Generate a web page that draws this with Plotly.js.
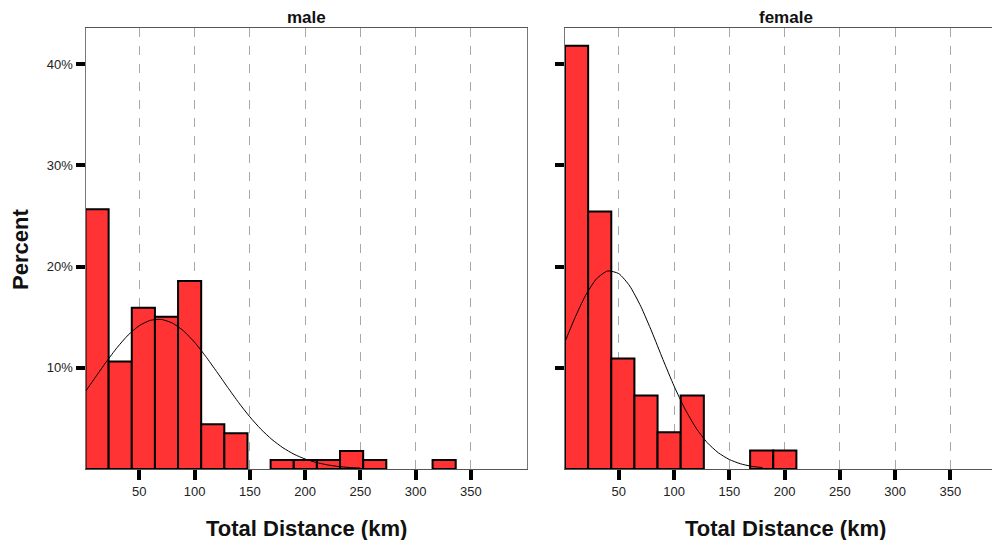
<!DOCTYPE html>
<html>
<head>
<meta charset="utf-8">
<script src="https://cdn.plot.ly/plotly-3.0.1.min.js"></script>
<style>
  html, body { margin: 0; padding: 0; overflow: hidden; background: #fff; }
  #chart { width: 1012px; height: 540px; }
</style>
</head>
<body>
<div id="chart"></div>
<script>
// Histogram bins (km) shared by both panels
const binStart = 1.4;
const binWidth = 20.93;

// Percent of riders in each bin
const malePct   = [25.66, 10.62, 15.93, 15.04, 18.58, 4.42, 3.54, 0, 0.88, 0.88, 0.88, 1.77, 0.88, 0, 0, 0.88];
const femalePct = [41.82, 25.45, 10.91, 7.27, 3.64, 7.27, 0, 0, 1.82, 1.82];

// Fitted normal curve, sampled along the distance axis
const curveKm = [1, 10, 20, 30, 40, 50, 60, 70, 80, 90,
                 100, 110, 120, 130, 140, 150, 160, 170, 180, 190,
                 200, 210, 220, 230, 240, 250];
const maleCurvePct = [7.60, 9.01, 10.56, 12.00, 13.24, 14.16, 14.69, 14.78, 14.42, 13.65,
                      12.53, 11.15, 9.63, 8.07, 6.55, 5.16, 3.94, 2.92, 2.10, 1.46,
                      0.99, 0.65, 0.41, 0.25, 0.15, 0.09];
const femaleCurvePct = [12.46, 14.85, 17.16, 18.81, 19.57, 19.31, 18.08, 16.06, 13.54, 10.82,
                        8.21, 5.91, 4.04, 2.61, 1.61, 0.94, 0.52, 0.27, 0.14];

// Axis ticks
const distTicks = [50, 100, 150, 200, 250, 300, 350];
const pctTicks = [10, 20, 30, 40];
const pctLabels = ['10%', '20%', '30%', '40%'];
const panelNames = ['male', 'female'];
const xTitle = 'Total Distance (km)';
const yTitle = 'Percent';

const FONT = 'Liberation Sans, Arial, Helvetica, sans-serif';
const PAGE_W = 1012;

function binCenters(pcts) {
  return pcts.map((_, i) => binStart + (i + 0.5) * binWidth);
}

function barTrace(pcts, xa, ya) {
  return {
    type: 'bar',
    x: binCenters(pcts),
    y: pcts.map(v => (v > 0 ? v : null)),
    width: binWidth,
    xaxis: xa, yaxis: ya,
    marker: { color: '#ff3333', line: { color: '#000', width: 2 } },
    hoverinfo: 'x+y',
    showlegend: false
  };
}

function curveTrace(vals, xa, ya) {
  return {
    type: 'scatter', mode: 'lines',
    x: curveKm.slice(0, vals.length), y: vals,
    xaxis: xa, yaxis: ya,
    line: { color: '#000', width: 1, shape: 'spline', smoothing: 0.6 },
    hoverinfo: 'skip',
    showlegend: false
  };
}

const data = [
  barTrace(malePct, 'x', 'y'),
  barTrace(femalePct, 'x2', 'y2'),
  curveTrace(maleCurvePct, 'x', 'y'),
  curveTrace(femaleCurvePct, 'x2', 'y2')
];

function xAxis(domainPx, anchor) {
  return {
    domain: [domainPx[0] / PAGE_W, domainPx[1] / PAGE_W],
    anchor: anchor,
    range: [binStart, 400.3],
    tickmode: 'array', tickvals: distTicks,
    ticks: 'outside', ticklen: 10, tickwidth: 4, tickcolor: '#000',
    tickfont: { family: FONT, size: 13, color: '#222' },
    showgrid: true, gridcolor: '#a8a8a8', gridwidth: 1, griddash: 'dash',
    zeroline: false,
    showline: true, linecolor: '#555', linewidth: 1, mirror: true
  };
}

function yAxis(anchor, labels) {
  return {
    domain: [0, 1],
    anchor: anchor,
    range: [0, 43.58],
    tickmode: 'array', tickvals: pctTicks, ticktext: pctLabels,
    showticklabels: labels,
    ticks: 'outside', ticklen: 9, tickwidth: 4, tickcolor: '#000',
    tickfont: { family: FONT, size: 13, color: '#222' },
    showgrid: false, zeroline: false,
    showline: true, linecolor: '#777', linewidth: 1, mirror: true
  };
}

const titleFont = { family: FONT, size: 17, color: '#111' };
const axisTitleFont = { family: FONT, size: 22, color: '#111' };

const layout = {
  width: PAGE_W, height: 540,
  margin: { l: 0, r: 0, t: 28, b: 71 },
  paper_bgcolor: '#fff', plot_bgcolor: '#fff',
  bargap: 0,
  xaxis: xAxis([85.5, 526.5], 'y'),
  yaxis: yAxis('x', true),
  xaxis2: xAxis([565, 1006], 'y2'),
  yaxis2: yAxis('x2', false),
  annotations: [
    { text: '<b>' + panelNames[0] + '</b>', xref: 'x domain', yref: 'paper', x: 0.5, y: 1.0227,
      xanchor: 'center', yanchor: 'middle', showarrow: false, font: titleFont },
    { text: '<b>' + panelNames[1] + '</b>', xref: 'x2 domain', yref: 'paper', x: 0.5, y: 1.0227,
      xanchor: 'center', yanchor: 'middle', showarrow: false, font: titleFont },
    { text: '<b>' + yTitle + '</b>', xref: 'paper', yref: 'paper', x: 21 / PAGE_W, y: 0.4966,
      xanchor: 'center', yanchor: 'middle', textangle: -90, showarrow: false, font: axisTitleFont },
    { text: '<b>' + xTitle + '</b>', xref: 'x domain', yref: 'paper', x: 0.5, y: -0.1338,
      xanchor: 'center', yanchor: 'middle', showarrow: false, font: axisTitleFont },
    { text: '<b>' + xTitle + '</b>', xref: 'x2 domain', yref: 'paper', x: 0.5, y: -0.1338,
      xanchor: 'center', yanchor: 'middle', showarrow: false, font: axisTitleFont }
  ]
};

Plotly.newPlot('chart', data, layout, { displayModeBar: false, staticPlot: true });
</script>
</body>
</html>
